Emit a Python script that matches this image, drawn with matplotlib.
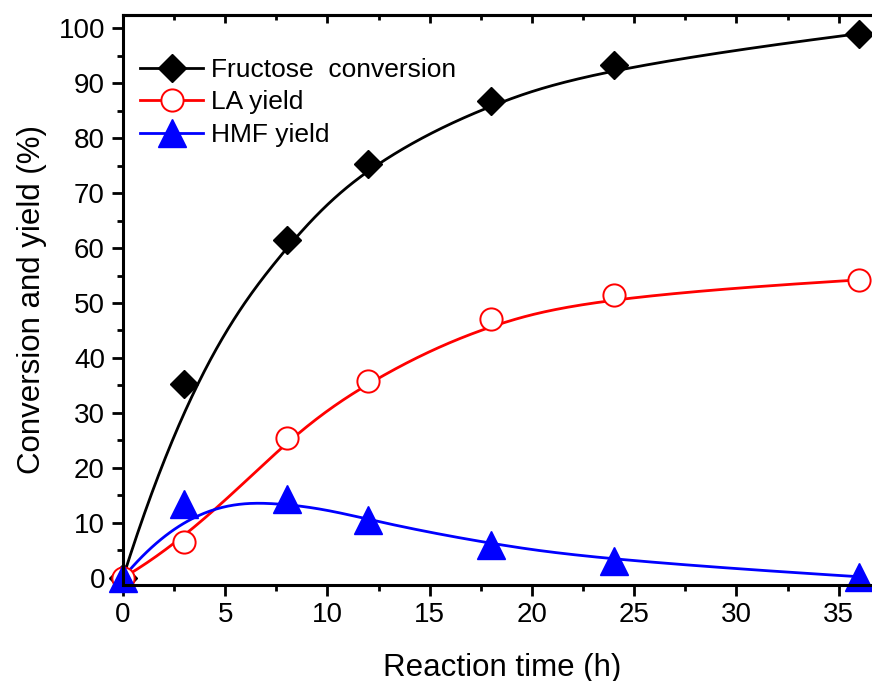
import matplotlib.pyplot as plt
import numpy as np

# Data
time_h = [0, 3, 8, 12, 18, 24, 36]
fructose_conv = [0, 35.3, 61.5, 75.2, 86.8, 93.3, 99.0]
la_yield = [0, 6.5, 25.5, 35.8, 47.0, 51.5, 54.2]
hmf_yield = [0, 13.5, 14.3, 10.5, 6.0, 3.0, 0.2]

plt.rcParams['font.family'] = ['Liberation Sans', 'DejaVu Sans']


def bspline(xs, ys, n=300, deg=3):
    # clamped uniform B-spline with the data points as control points
    # (same as the "B-Spline" line connection of the original plot)
    pts = np.column_stack([xs, ys]).astype(float)
    m = len(pts)
    knots = np.concatenate([np.zeros(deg), np.arange(m - deg + 1), np.full(deg, m - deg)])
    u = np.linspace(0, m - deg, n)
    u[-1] -= 1e-9
    N = np.zeros((n, len(knots) - 1))
    for i in range(len(knots) - 1):
        N[:, i] = (knots[i] <= u) & (u < knots[i + 1])
    for d in range(1, deg + 1):
        Nn = np.zeros((n, len(knots) - 1 - d))
        for i in range(len(knots) - 1 - d):
            a = knots[i + d] - knots[i]
            b = knots[i + d + 1] - knots[i + 1]
            t1 = (u - knots[i]) / a * N[:, i] if a > 0 else 0
            t2 = (knots[i + d + 1] - u) / b * N[:, i + 1] if b > 0 else 0
            Nn[:, i] = t1 + t2
        N = Nn
    curve = N @ pts
    return curve[:, 0], curve[:, 1]


fig = plt.figure(figsize=(8.72, 6.81), dpi=100)
# axes run past the right edge of the picture, as in the original
ax = fig.add_axes([0.141, 0.141, 0.870, 0.837])

lw = 2.0
ax.plot(*bspline(time_h, fructose_conv), color='black', lw=lw)
ax.plot(*bspline(time_h, la_yield), color='red', lw=lw)
ax.plot(*bspline(time_h, hmf_yield), color='blue', lw=lw)

ax.plot(time_h, fructose_conv, 'D', color='black', ms=14, clip_on=False)
ax.plot(time_h, la_yield, 'o', mfc='white', mec='red', mew=1.4, ms=16, clip_on=False)
ax.plot(time_h, hmf_yield, '^', color='blue', ms=20, clip_on=False)

# legend handles (line + marker)
h1, = ax.plot([], [], '-D', color='black', ms=14, lw=lw, label='Fructose  conversion')
h2, = ax.plot([], [], '-o', color='red', mfc='white', mec='red', mew=1.4, ms=16, lw=lw, label='LA yield')
h3, = ax.plot([], [], '-^', color='blue', ms=20, lw=lw, label='HMF yield')
ax.legend(handles=[h1, h2, h3], loc='upper left', bbox_to_anchor=(140 / 872, 1 - 58 / 681),
          bbox_transform=fig.transFigure, frameon=False, fontsize=19,
          handlelength=2.4, handletextpad=0.3, labelspacing=0.32,
          borderaxespad=0, borderpad=0)

ax.set_xlim(0, 37.1)
ax.set_ylim(-1.3, 102.4)
ax.set_xticks(np.arange(0, 36, 5))
ax.set_xticks(np.arange(0, 37, 2.5), minor=True)
ax.set_yticks(np.arange(0, 101, 10))
ax.set_yticks(np.arange(0, 101, 5), minor=True)

ax.tick_params(axis='both', which='major', labelsize=20, width=2.0, length=8, direction='out')
ax.tick_params(axis='both', which='minor', width=2.0, length=4.5, direction='out')
ax.tick_params(axis='y', which='major', pad=5)
ax.tick_params(axis='x', which='major', pad=4)

# top axis: inward ticks, no labels
top = ax.secondary_xaxis('top')
top.set_xticks(np.arange(0, 36, 5))
top.set_xticks(np.arange(0, 37, 2.5), minor=True)
top.tick_params(which='major', direction='in', length=6, width=2.0, labeltop=False)
top.tick_params(which='minor', direction='in', length=3.5, width=2.0)
top.spines['top'].set_linewidth(2.2)

for spine in ax.spines.values():
    spine.set_linewidth(2.2)
ax.spines['right'].set_visible(False)

ax.set_xlabel('Reaction time (h)', fontsize=22.5, labelpad=18)
ax.set_ylabel('Conversion and yield (%)', fontsize=22.5, labelpad=8)

plt.savefig('out.png', dpi=100)
plt.close()
